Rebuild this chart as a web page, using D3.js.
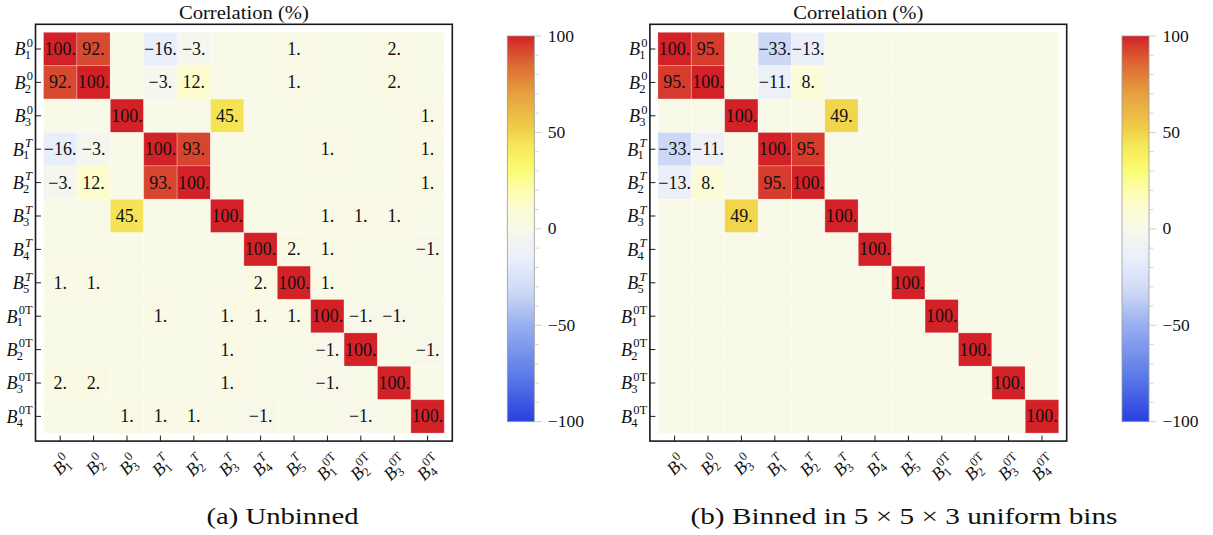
<!DOCTYPE html>
<html><head><meta charset="utf-8">
<script src="https://cdn.jsdelivr.net/npm/d3@7"></script>
<style>
body{margin:0;background:#fff}
svg{display:block;font-family:"Liberation Serif","Times New Roman",Times,serif}
svg text{font-family:"Liberation Serif","Times New Roman",Times,serif;fill:#111}
</style>
</head><body>
<svg id="chart" width="1213" height="535"></svg>
<script>
// ---------- data ----------
const labelSub = ["1","2","3","1","2","3","4","5","1","2","3","4"];
const labelSup = ["0","0","0","T","T","T","T","T","0T","0T","0T","0T"];

const unbinned = [
  [100, 92,   0, -16,  -3,   0,   0,   1,   0,   0,   2,   0],
  [ 92,100,   0,  -3,  12,   0,   0,   1,   0,   0,   2,   0],
  [  0,  0, 100,   0,   0,  45,   0,   0,   0,   0,   0,   1],
  [-16, -3,   0, 100,  93,   0,   0,   0,   1,   0,   0,   1],
  [ -3, 12,   0,  93, 100,   0,   0,   0,   0,   0,   0,   1],
  [  0,  0,  45,   0,   0, 100,   0,   0,   1,   1,   1,   0],
  [  0,  0,   0,   0,   0,   0, 100,   2,   1,   0,   0,  -1],
  [  1,  1,   0,   0,   0,   0,   2, 100,   1,   0,   0,   0],
  [  0,  0,   0,   1,   0,   1,   1,   1, 100,  -1,  -1,   0],
  [  0,  0,   0,   0,   0,   1,   0,   0,  -1, 100,   0,  -1],
  [  2,  2,   0,   0,   0,   1,   0,   0,  -1,   0, 100,   0],
  [  0,  0,   1,   1,   1,   0,  -1,   0,   0,  -1,   0, 100]
];

const binned = [
  [100, 95,   0, -33, -13,   0,   0,   0,   0,   0,   0,   0],
  [ 95,100,   0, -11,   8,   0,   0,   0,   0,   0,   0,   0],
  [  0,  0, 100,   0,   0,  49,   0,   0,   0,   0,   0,   0],
  [-33,-11,   0, 100,  95,   0,   0,   0,   0,   0,   0,   0],
  [-13,  8,   0,  95, 100,   0,   0,   0,   0,   0,   0,   0],
  [  0,  0,  49,   0,   0, 100,   0,   0,   0,   0,   0,   0],
  [  0,  0,   0,   0,   0,   0, 100,   0,   0,   0,   0,   0],
  [  0,  0,   0,   0,   0,   0,   0, 100,   0,   0,   0,   0],
  [  0,  0,   0,   0,   0,   0,   0,   0, 100,   0,   0,   0],
  [  0,  0,   0,   0,   0,   0,   0,   0,   0, 100,   0,   0],
  [  0,  0,   0,   0,   0,   0,   0,   0,   0,   0, 100,   0],
  [  0,  0,   0,   0,   0,   0,   0,   0,   0,   0,   0, 100]
];

const cbMajorTicks = [-100, -50, 0, 50, 100];
const cbMinorTicks = [-90,-80,-70,-60,-40,-30,-20,-10,10,20,30,40,60,70,80,90];

const titleText = "Correlation (%)";
const captions = ["(a) Unbinned", "(b) Binned in 5 \u00d7 5 \u00d7 3 uniform bins"];

// colour map stops (style)
const cmapDomain = [-100,-75,-50,-33,-16,-5,0,10,20,32,45,50,70,85,92,100];
const cmapRange  = ["#2a40e0","#5d7de9","#98aff0","#ccd8f5","#e9eefb","#f2f4f1","#f9f9e8",
                    "#fcfcd4","#fdfdae","#fbfb6c","#f5e356","#f0d24a","#e6a03e","#dd6a33","#d84a30","#d32128"];

const FONT = "'Liberation Serif','Times New Roman',Times,serif";

// ---------- drawing ----------
const svg = d3.select("#chart");
const defs = svg.append("defs");
const color = d3.scaleLinear().domain(cmapDomain).range(cmapRange).interpolate(d3.interpolateRgb).clamp(true);
const idx = d3.range(labelSub.length);

function txt(sel) { return sel.append("text").attr("font-family", FONT).attr("fill", "#111"); }

function buildLabel(g, i) {
  const b = txt(g).attr("font-style","italic").attr("font-size",18).text("B");
  const wB = b.node().getComputedTextLength();
  const sup = labelSup[i];
  txt(g).attr("x", wB + 1.2).attr("y", -8.5).attr("font-size", 12.5)
    .attr("font-style", sup === "T" ? "italic" : "normal").text(sup);
  txt(g).attr("x", wB - 0.8).attr("y", 3.8).attr("font-size", 12.5).text(labelSub[i]);
}

function fmt(v) { return (v < 0 ? "\u2212" : "") + Math.abs(v) + "."; }

function panel(pid, x0, matrix, caption, capCx, capW, cbX) {
  const y0 = 32.3, size = 400.8, pad = 8;
  const sx = d3.scaleBand().domain(idx).range([x0, x0 + size]);
  const sy = d3.scaleBand().domain(idx).range([y0, y0 + size]);
  const bw = sx.bandwidth();
  const g = svg.append("g");

  const cells = [];
  matrix.forEach((row, r) => row.forEach((v, c) => cells.push({r, c, v})));

  g.selectAll("rect.cell").data(cells).join("rect")
    .attr("class","cell")
    .attr("x", d => sx(d.c)).attr("y", d => sy(d.r))
    .attr("width", bw).attr("height", bw)
    .attr("fill", d => color(d.v))
    .attr("stroke", "rgba(255,255,255,0.28)").attr("stroke-width", 0.9);

  g.selectAll("text.val").data(cells.filter(d => d.v !== 0)).join("text")
    .attr("class","val").attr("font-family", FONT).attr("fill","#111")
    .attr("x", d => sx(d.c) + bw/2).attr("y", d => sy(d.r) + bw/2 + 6)
    .attr("text-anchor","middle").attr("font-size", 18)
    .text(d => fmt(d.v));

  // frame
  const fx0 = x0 - pad, fy0 = y0 - pad, fx1 = x0 + size + pad, fy1 = y0 + size + pad;
  g.append("rect").attr("x", fx0).attr("y", fy0).attr("width", fx1 - fx0).attr("height", fy1 - fy0)
    .attr("fill","none").attr("stroke","#1a1a1a").attr("stroke-width",1.6);

  // ticks (inward)
  g.selectAll("line.yt").data(idx).join("line").attr("class","yt")
    .attr("x1", fx0).attr("x2", fx0 + 5.5)
    .attr("y1", d => sy(d) + bw/2).attr("y2", d => sy(d) + bw/2)
    .attr("stroke","#1a1a1a").attr("stroke-width",1);
  g.selectAll("line.xt").data(idx).join("line").attr("class","xt")
    .attr("y1", fy1).attr("y2", fy1 - 5.5)
    .attr("x1", d => sx(d) + bw/2).attr("x2", d => sx(d) + bw/2)
    .attr("stroke","#1a1a1a").attr("stroke-width",1);

  // y labels
  idx.forEach(i => {
    const lg = g.append("g");
    buildLabel(lg, i);
    const bb = lg.node().getBBox();
    const cy = sy(i) + bw/2;
    lg.attr("transform", `translate(${fx0 - 2.5 - (bb.x + bb.width)},${cy - (bb.y + bb.height/2)})`);
  });

  // x labels (rotated 45 deg counter-clockwise, rotated bbox centred under tick)
  const c45 = Math.SQRT1_2;
  idx.forEach(i => {
    const lg = g.append("g");
    buildLabel(lg, i);
    const bb = lg.node().getBBox();
    const corners = [[bb.x, bb.y], [bb.x + bb.width, bb.y], [bb.x, bb.y + bb.height], [bb.x + bb.width, bb.y + bb.height]]
      .map(([x, y]) => [c45 * (x + y), c45 * (y - x)]);
    const minX = d3.min(corners, p => p[0]), maxX = d3.max(corners, p => p[0]);
    const minY = d3.min(corners, p => p[1]);
    const cx = sx(i) + bw/2;
    const tx = cx + 1.5 - (minX + maxX) / 2;
    const ty = fy1 + 8 - minY;
    lg.attr("transform", `translate(${tx},${ty}) rotate(-45)`);
  });

  // title
  txt(g).attr("x", (fx0 + fx1)/2).attr("y", 18.5)
    .attr("text-anchor","middle").attr("font-size", 19.5)
    .attr("textLength", 130).attr("lengthAdjust","spacingAndGlyphs")
    .text(titleText);

  // caption
  txt(g).attr("x", capCx).attr("y", 523.5)
    .attr("text-anchor","middle").attr("font-size", 23)
    .attr("textLength", capW).attr("lengthAdjust","spacingAndGlyphs")
    .text(caption);

  // colorbar
  const cbTop = 36, cbBot = 421.7, cbW = 27;
  const cy = d3.scaleLinear().domain([-100, 100]).range([cbBot, cbTop]);
  const gid = "grad_" + pid;
  const grad = defs.append("linearGradient").attr("id", gid)
    .attr("x1",0).attr("y1",1).attr("x2",0).attr("y2",0);
  d3.range(0, 41).forEach(k => {
    const v = -100 + k * 5;
    grad.append("stop").attr("offset", (k/40)).attr("stop-color", color(v));
  });
  g.append("rect").attr("x", cbX).attr("y", cbTop).attr("width", cbW).attr("height", cbBot - cbTop)
    .attr("fill", `url(#${gid})`).attr("stroke","#9a9a9a").attr("stroke-width",0.8);
  g.selectAll("line.cbmin").data(cbMinorTicks).join("line").attr("class","cbmin")
    .attr("x1", cbX + cbW).attr("x2", cbX + cbW + 4.5)
    .attr("y1", d => cy(d)).attr("y2", d => cy(d))
    .attr("stroke","#c8c8c8").attr("stroke-width",0.8);
  g.selectAll("line.cbmaj").data(cbMajorTicks).join("line").attr("class","cbmaj")
    .attr("x1", cbX + cbW).attr("x2", cbX + cbW + 7.5)
    .attr("y1", d => cy(d)).attr("y2", d => cy(d))
    .attr("stroke","#c8c8c8").attr("stroke-width",0.9);
  g.selectAll("text.cbl").data(cbMajorTicks).join("text").attr("class","cbl")
    .attr("font-family", FONT).attr("fill","#111")
    .attr("x", cbX + cbW + 13.5).attr("y", d => cy(d) + 5.5)
    .attr("font-size", 17.5)
    .text(d => (d < 0 ? "\u2212" : "") + Math.abs(d));
}

panel("a", 43.5, unbinned, captions[0], 282.5, 152, 507.3);
panel("b", 657.9, binned, captions[1], 904, 427, 1122);
</script>
</body></html>
